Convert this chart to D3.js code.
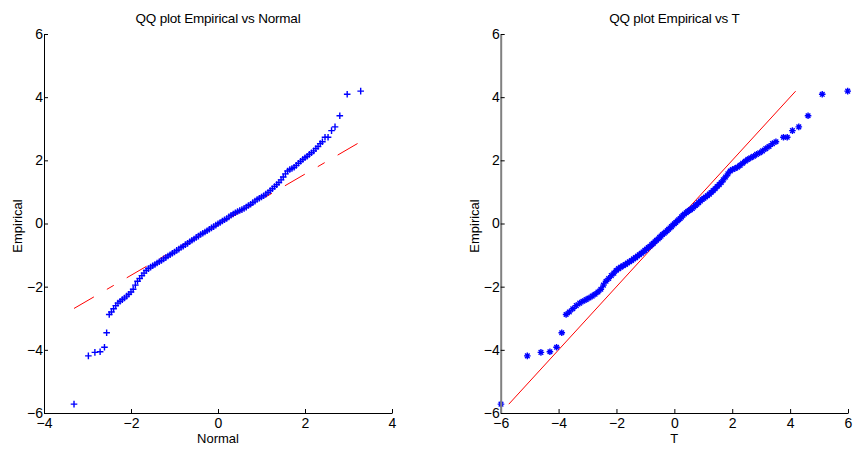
<!DOCTYPE html>
<html>
<head>
<meta charset="utf-8">
<script src="https://cdn.jsdelivr.net/npm/d3@7/dist/d3.min.js"></script>
<style>
  body { margin: 0; background: #fff; }
  text { font-family: "Liberation Sans", Arial, sans-serif; }
</style>
</head>
<body>
<script>
// sorted sample values (same for both plots)
const empirical = [
  -5.72, -4.19, -4.08, -4.06, -3.92, -3.46, -2.88,
  -2.80, -2.70, -2.60, -2.52, -2.46, -2.41, -2.36, -2.30, -2.24, -2.17,
  -2.08, -1.95, -1.83, -1.74, -1.65, -1.57, -1.49, -1.43, -1.38, -1.34,
  -1.30, -1.25, -1.21, -1.17, -1.12, -1.08, -1.03, -0.99, -0.94, -0.90,
  -0.85, -0.81, -0.76, -0.72, -0.67, -0.63, -0.58, -0.53, -0.49, -0.44,
  -0.40, -0.35, -0.31, -0.27, -0.23, -0.18, -0.14, -0.10, -0.05, -0.01,
  0.03, 0.08, 0.12, 0.16, 0.21, 0.26, 0.30, 0.34, 0.38, 0.41,
  0.44, 0.48, 0.52, 0.57, 0.61, 0.66, 0.71, 0.76, 0.80, 0.84,
  0.88, 0.93, 0.98, 1.04, 1.10, 1.17, 1.23, 1.30, 1.38, 1.47,
  1.57, 1.66, 1.71, 1.74, 1.78, 1.84, 1.91, 1.97, 2.03, 2.08,
  2.13, 2.19, 2.24, 2.30, 2.37, 2.44, 2.53,
  2.59, 2.73, 2.73, 2.94, 3.06, 3.41, 4.09, 4.19
];
// matching standard normal quantiles
const normalQ = [
  -3.31, -2.98, -2.83, -2.71, -2.61, -2.56, -2.50,
  -2.45, -2.40, -2.35, -2.30, -2.25, -2.20, -2.15, -2.10, -2.05, -2.00,
  -1.95, -1.90, -1.85, -1.80, -1.75, -1.70, -1.65, -1.60, -1.55, -1.50,
  -1.45, -1.40, -1.35, -1.30, -1.25, -1.20, -1.15, -1.10, -1.05, -1.00,
  -0.95, -0.90, -0.85, -0.80, -0.75, -0.70, -0.65, -0.60, -0.55, -0.50,
  -0.45, -0.40, -0.35, -0.30, -0.25, -0.20, -0.15, -0.10, -0.05, 0.00,
  0.05, 0.10, 0.15, 0.20, 0.25, 0.30, 0.35, 0.40, 0.45, 0.50,
  0.55, 0.60, 0.65, 0.70, 0.75, 0.80, 0.85, 0.90, 0.95, 1.00,
  1.05, 1.10, 1.15, 1.20, 1.25, 1.30, 1.35, 1.40, 1.45, 1.50,
  1.55, 1.60, 1.65, 1.70, 1.75, 1.80, 1.85, 1.90, 1.95, 2.00,
  2.05, 2.10, 2.15, 2.20, 2.25, 2.30, 2.35,
  2.40, 2.46, 2.53, 2.61, 2.69, 2.80, 2.97, 3.28
];
// matching T quantiles
const tQ = [
  -5.99, -5.08, -4.61, -4.30, -4.07, -3.89, -3.74,
  -3.63, -3.51, -3.39, -3.27, -3.16, -3.05, -2.95, -2.84, -2.74, -2.64,
  -2.54, -2.45, -2.36, -2.27, -2.18, -2.09, -2.01, -1.93, -1.85, -1.77,
  -1.69, -1.62, -1.55, -1.48, -1.41, -1.34, -1.27, -1.21, -1.14, -1.08,
  -1.02, -0.96, -0.90, -0.84, -0.78, -0.73, -0.67, -0.62, -0.56, -0.51,
  -0.46, -0.41, -0.35, -0.30, -0.25, -0.20, -0.15, -0.10, -0.05, 0.00,
  0.05, 0.10, 0.15, 0.20, 0.25, 0.30, 0.35, 0.41, 0.46, 0.51,
  0.56, 0.62, 0.67, 0.73, 0.78, 0.84, 0.90, 0.96, 1.02, 1.08,
  1.14, 1.21, 1.27, 1.34, 1.41, 1.48, 1.55, 1.62, 1.69, 1.77,
  1.85, 1.93, 2.01, 2.09, 2.18, 2.27, 2.36, 2.45, 2.54, 2.64,
  2.74, 2.84, 2.95, 3.05, 3.16, 3.27, 3.39,
  3.51, 3.77, 3.90, 4.08, 4.30, 4.62, 5.11, 5.99
];

// reference lines (endpoints in data units)
const normalRefX = [-3.31, 3.28];
const normalRefY = [-2.69, 2.59];
const normalQuartX = [-0.674, 0.674];
const tRefX = [-5.72, 4.19];
const tRefY = [-5.72, 4.19];

const yTicks = [-6, -4, -2, 0, 2, 4, 6];
const normalTicks = [-4, -2, 0, 2, 4];
const tTicks = [-6, -4, -2, 0, 2, 4, 6];

const width = 853, height = 449;
const plotTop = 34, plotBottom = 413;

const svg = d3.select("body").append("svg")
  .attr("width", width)
  .attr("height", height);

function panel(opts) {
  const x = d3.scaleLinear().domain(opts.xDomain).range([opts.left, opts.right]);
  const y = d3.scaleLinear().domain([-6, 6]).range([plotBottom, plotTop]);
  const g = svg.append("g");

  // reference line(s) under the points
  const line = d3.line().x(d => x(d[0])).y(d => y(d[1]));
  if (opts.quart) {
    const onRef = d3.scaleLinear().domain(opts.refX).range(opts.refY);
    g.append("path")
      .attr("d", line(opts.quart.map(v => [v, onRef(v)])))
      .attr("stroke", "#ff0000").attr("fill", "none").attr("stroke-width", 1);
  }
  g.append("path")
    .attr("d", line([[opts.refX[0], opts.refY[0]], [opts.refX[1], opts.refY[1]]]))
    .attr("stroke", "#ff0000")
    .attr("fill", "none")
    .attr("stroke-width", 1)
    .attr("stroke-dasharray", opts.dash || null);

  // data points
  const pts = opts.xs.map((v, i) => [v, empirical[i]]);
  g.append("g").selectAll("path")
    .data(pts)
    .enter().append("path")
      .attr("transform", d => `translate(${x(d[0])},${y(d[1])})`)
      .attr("d", opts.marker)
      .attr("stroke", "#0000ff")
      .attr("stroke-width", 1.4)
      .attr("fill", "none");

  // axes, ticks pointing inward
  const xAxis = g.append("g")
    .attr("transform", `translate(0,${plotBottom})`)
    .call(d3.axisBottom(x).tickValues(opts.xTicks).tickSizeInner(-4).tickSizeOuter(0).tickPadding(5));
  const yAxis = g.append("g")
    .attr("transform", `translate(${opts.left},0)`)
    .call(d3.axisLeft(y).tickValues(yTicks).tickSizeInner(-4).tickSizeOuter(0).tickPadding(1));

  [xAxis, yAxis].forEach(a => {
    a.attr("font-family", null).attr("font-size", 14);
    a.selectAll("text").attr("fill", "#000");
    a.selectAll("line").attr("stroke", "#000");
    a.select(".domain").attr("stroke", "#000");
  });
  if (opts.yAxisColor) {
    yAxis.select(".domain").attr("stroke", opts.yAxisColor).attr("stroke-width", 2);
  }

  const cx = (opts.left + opts.right) / 2;
  g.append("text")
    .attr("x", cx).attr("y", 23)
    .attr("text-anchor", "middle")
    .attr("font-size", 13.5)
    .attr("letter-spacing", -0.2)
    .text(opts.title);
  g.append("text")
    .attr("x", cx).attr("y", 443)
    .attr("text-anchor", "middle")
    .attr("font-size", 13)
    .text(opts.xLabel);
  g.append("text")
    .attr("transform", `translate(${opts.left - 22},226) rotate(-90)`)
    .attr("text-anchor", "middle")
    .attr("font-size", 13)
    .text("Empirical");
}

panel({
  left: 44, right: 392,
  xDomain: [-4, 4],
  xTicks: normalTicks,
  xs: normalQ,
  refX: normalRefX, refY: normalRefY,
  quart: normalQuartX,
  dash: "23,15,8,15",
  marker: "M-3.3,0H3.3M0,-3.3V3.3",
  title: "QQ plot Empirical vs Normal",
  xLabel: "Normal"
});

panel({
  left: 500.7, right: 848,
  xDomain: [-6, 6],
  xTicks: tTicks,
  xs: tQ,
  refX: tRefX, refY: tRefY,
  marker: "M-3.3,0H3.3M0,-3.3V3.3M-2.3,-2.3L2.3,2.3M-2.3,2.3L2.3,-2.3",
  yAxisColor: "#808080",
  title: "QQ plot Empirical vs T",
  xLabel: "T"
});
</script>
</body>
</html>
